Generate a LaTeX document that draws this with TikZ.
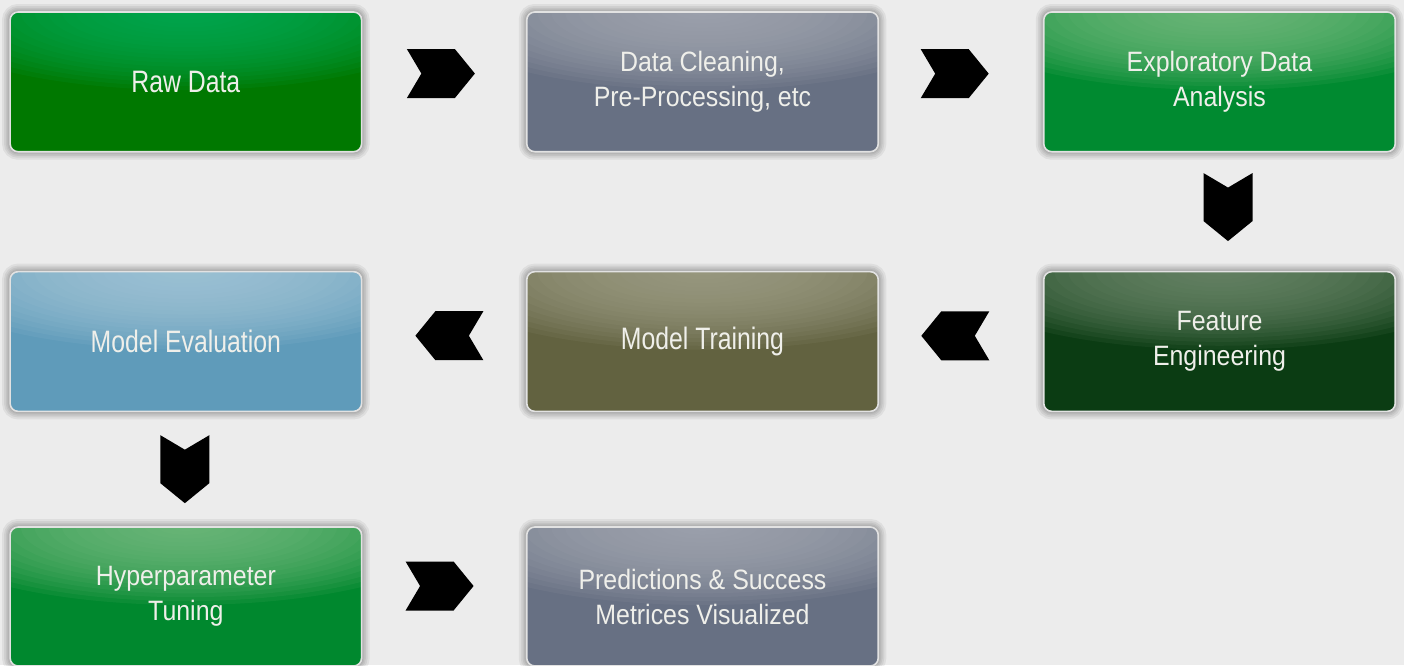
\documentclass[tikz,border=0pt]{standalone}
\usepackage{fontspec}
\setmainfont{Liberation Sans}
\newfontfamily\onefont[FakeStretch=0.8]{Liberation Sans}
\newfontfamily\twofont[FakeStretch=0.89]{Liberation Sans}
\usetikzlibrary{calc}
\definecolor{bg}{HTML}{ECECEC}
\definecolor{boxedge}{HTML}{E2E2E2}
\definecolor{txt}{HTML}{EFEFEA}
\definecolor{rawM}{HTML}{007800}
\definecolor{rawL}{HTML}{00AE5A}
\definecolor{grayM}{HTML}{677083}
\definecolor{grayL}{HTML}{A6AAB4}
\definecolor{edaM}{HTML}{008A30}
\definecolor{edaL}{HTML}{78BE82}
\definecolor{featM}{HTML}{0B3C13}
\definecolor{featL}{HTML}{728C70}
\definecolor{trainM}{HTML}{626240}
\definecolor{trainL}{HTML}{A2A28A}
\definecolor{evalM}{HTML}{5F9BBA}
\definecolor{evalL}{HTML}{A6C8DA}
\definecolor{hypM}{HTML}{00882E}
\definecolor{hypL}{HTML}{78BE84}
\begin{document}
\begin{tikzpicture}[x=1pt,y=-1pt,
  ring/.style={preaction={draw=black, draw opacity=0.06, line width=#1}},
  box/.style 2 args={draw=boxedge, line width=1.6pt, rounded corners=8pt,
    minimum width=351.5pt, minimum height=139.7pt, fill=#1, text=txt, align=center,
    ring=16pt, ring=12pt, ring=8.5pt, ring=5.5pt, ring=3pt,
    path picture={\foreach \k in {0,...,19}{\fill[#2, fill opacity=0.1]
      (path picture bounding box.north) ellipse [x radius={275pt*(1-\k/20)}, y radius={78pt*(1-\k/20)}];}}},
  one/.style={font=\onefont\fontsize{31}{35}\selectfont},
  two/.style={font=\twofont\fontsize{28}{35}\selectfont},
  chev/.pic={\fill[black] (-34,-24.5) -- (14,-24.5) -- (34,0) -- (14,24.5) -- (-34,24.5) -- (-19.5,0) -- cycle;}
]
\useasboundingbox (0,0) rectangle (1404,665);
\fill[bg] (0,0) rectangle (1404,665);
\clip (0,0) rectangle (1404,665);

\node[box={rawM}{rawL}, one] (raw) at (185.85,81.85) {Raw Data};
\node[box={grayM}{grayL}, two] (clean) at (702.5,81.85) {Data Cleaning,\\Pre-Processing, etc};
\node[box={edaM}{edaL}, two] (eda) at (1219.5,81.85) {Exploratory Data\\Analysis};
\node[box={featM}{featL}, two] (feat) at (1219.5,341.5) {Feature\\Engineering};
\node[box={trainM}{trainL}, one] (train) at (702.5,341.5) {Model Training};
\node[box={evalM}{evalL}, one] (eval) at (185.85,341.5) {Model Evaluation};
\node[box={hypM}{hypL}, two, minimum height=139pt] (hyper) at (185.85,596.5) {Hyperparameter\\Tuning};
\node[box={grayM}{grayL}, two, minimum height=139pt] (pred) at (702.5,596.5) {Predictions \& Success\\Metrices Visualized};

\pic at ($($(raw.east)!0.5!(clean.west)$)+(-3.3,-8.3)$) {chev};
\pic at ($($(clean.east)!0.5!(eda.west)$)+(-6.3,-8.2)$) {chev};
\pic[rotate=-90] at ($($(eda.south)!0.5!(feat.north)$)+(8.5,-4.6)$) {chev};
\pic[rotate=180] at ($($(feat.west)!0.5!(train.east)$)+(-5.7,-5.7)$) {chev};
\pic[rotate=180] at ($($(train.west)!0.5!(eval.east)$)+(5.2,-5.8)$) {chev};
\pic[rotate=-90] at ($($(eval.south)!0.5!(hyper.north)$)+(-1,0)$) {chev};
\pic at ($($(hyper.east)!0.5!(pred.west)$)+(-4.6,-10.5)$) {chev};
\end{tikzpicture}
\end{document}
